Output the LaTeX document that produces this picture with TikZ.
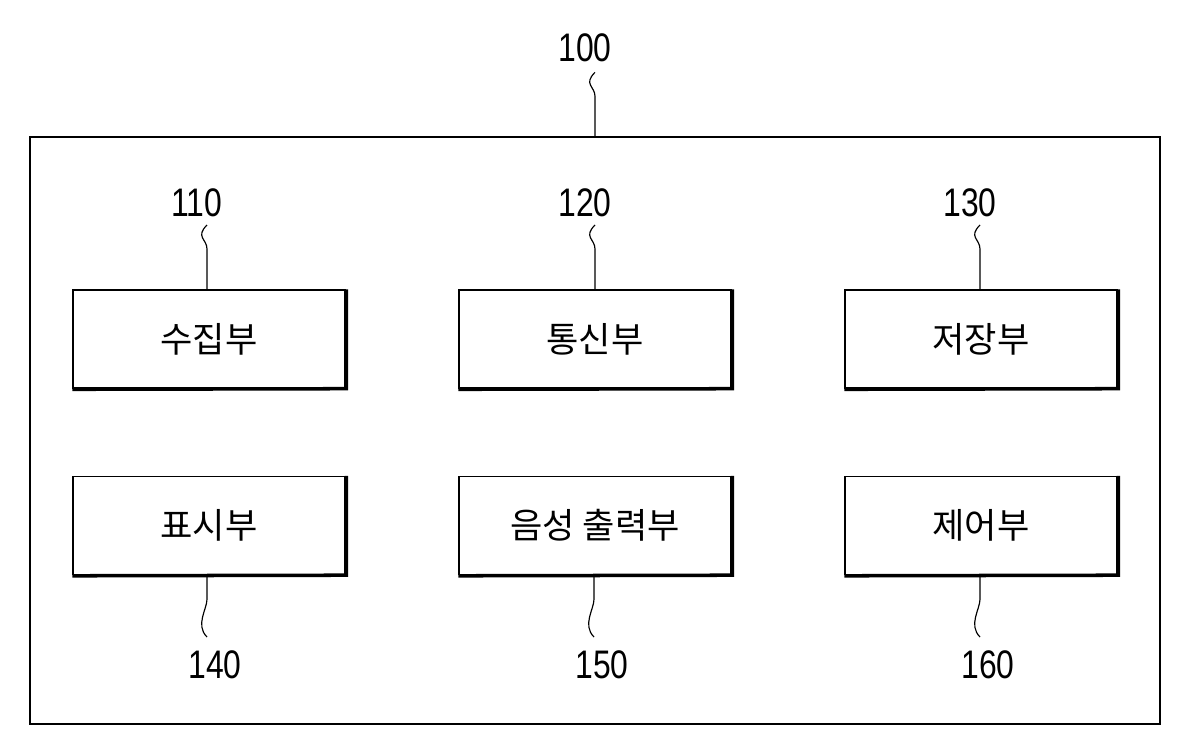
\documentclass[tikz,border=0pt]{standalone}
\usepackage{fontspec}
\setmainfont{Liberation Sans}
\newfontfamily\kr{Noto Sans CJK KR}
\begin{document}
\begin{tikzpicture}[x=0.03cm,y=-0.03cm,
  blk/.style={draw,line width=1.2pt,minimum width=272*0.03cm,minimum height=98*0.03cm,font=\kr\fontsize{30}{30}\selectfont,inner sep=0},
  num/.style={font=\fontsize{34}{34}\selectfont,inner sep=0},
  sq/.style={line width=1pt}]
\useasboundingbox (0,0) rectangle (1200,755);
\node[draw,line width=1.5pt,minimum width=1130*0.03cm,minimum height=587*0.03cm,inner sep=0] (outer) at (595,430.5) {};
\node[num] (n100) at (585,48) {\scalebox{0.8}[1]{100}};
\draw[sq] (n100.south)++(10,10) coordinate (a) .. controls +(-12,12) and +(0,-10) .. ++(0,24) .. controls +(0,10) and +(0,-10) .. (outer.north -| a);
\foreach \n/\t/\x/\y in {c110/수집부/209/339,c120/통신부/595/339,c130/저장부/981/339,c140/표시부/209/525.5,c150/음성 출력부/595/525.5,c160/제어부/981/525.5}{
  \node[blk] (\n) at (\x,\y) {\t};
  \draw[line width=3pt] ([xshift=0.5pt]\n.north east) -- ([xshift=0.5pt]\n.south east) -- ([yshift=-0.5pt]\n.south west);
}
\foreach \n/\t/\x in {c110/110/197,c120/120/585,c130/130/970}{
  \node[num] (l\n) at (\x,203) {\scalebox{0.8}[1]{\t}};
  \draw[sq] (\x+10,225) coordinate (b) .. controls +(-12,12) and +(0,-10) .. ++(0,24) .. controls +(0,10) and +(0,-10) .. (\n.north -| b);
}
\foreach \n/\t/\x in {c140/140/215,c150/150/602,c160/160/988}{
  \node[num] (l\n) at (\x,665) {\scalebox{0.8}[1]{\t}};
  \draw[sq] (\n.south -| {\x-8,0}) coordinate (b) .. controls +(0,12) and +(0,-10) .. ++(0,24) .. controls +(0,10) and +(-12,-12) .. (\x-8,637);
}
\end{tikzpicture}
\end{document}
